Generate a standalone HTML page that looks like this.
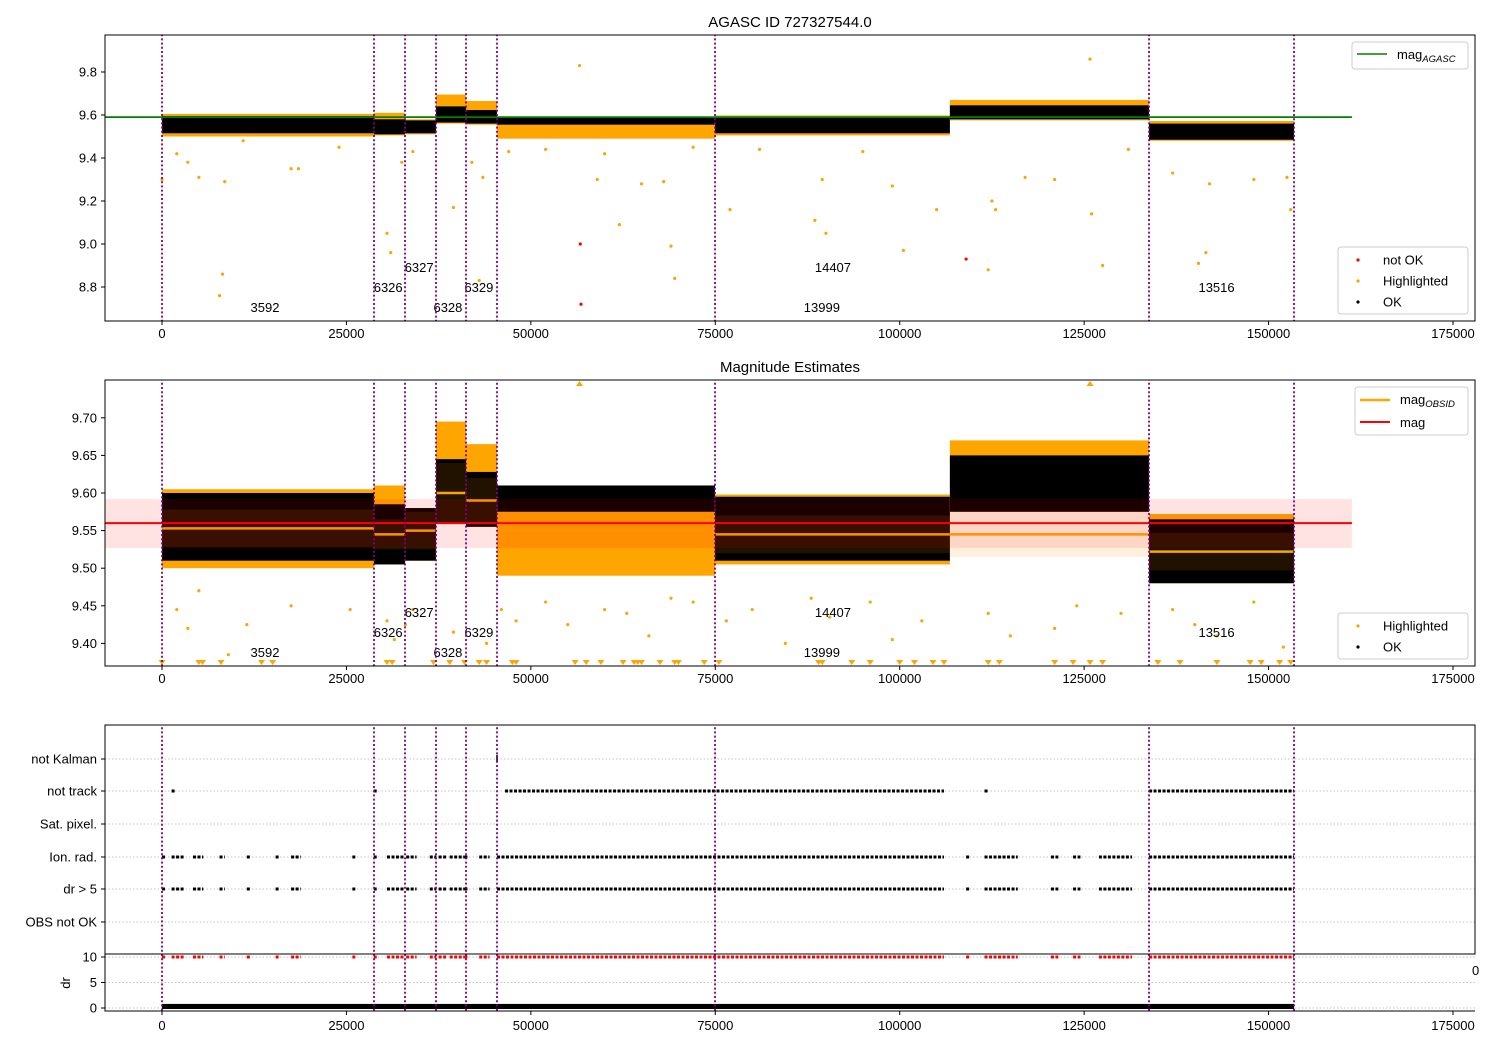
<!DOCTYPE html>
<html><head><meta charset="utf-8"><style>
body{margin:0;background:#fff;}
svg{display:block;font-family:"Liberation Sans","DejaVu Sans",sans-serif;}
</style></head><body>
<svg id="fig" width="1500" height="1050" viewBox="0 0 1500 1050">
<defs>
<clipPath id="c1"><rect x="105" y="35" width="1370" height="286"/></clipPath>
<clipPath id="c2"><rect x="105" y="380" width="1370" height="286"/></clipPath>
<clipPath id="c3"><rect x="105" y="725" width="1370" height="286"/></clipPath>
</defs>
<text x="790" y="27" text-anchor="middle" font-size="15">AGASC ID 727327544.0</text>
<text x="790" y="372" text-anchor="middle" font-size="15">Magnitude Estimates</text>
<g id="p1" clip-path="url(#c1)"></g>
<g id="p2" clip-path="url(#c2)"></g>
<g id="p3" clip-path="url(#c3)"></g>
<g id="ax"></g>
</svg>
<script>
// ---- data ----
const obsBounds = [0, 28738, 32940, 37143, 41209, 45411, 74963, 133795, 153450];
const segStart = [0, 28738, 32940, 37143, 41209, 45411, 74963, 106800, 133795];
const segEnd   = [28738, 32940, 37143, 41209, 45411, 74963, 106800, 133795, 153450];
const okLo  = [9.510, 9.505, 9.510, 9.560, 9.555, 9.560, 9.510, 9.575, 9.480];
const okHi  = [9.600, 9.585, 9.580, 9.645, 9.628, 9.610, 9.595, 9.650, 9.565];
const hlLo  = [9.500, 9.505, 9.510, 9.560, 9.555, 9.490, 9.505, 9.575, 9.480];
const hlHi  = [9.605, 9.610, 9.580, 9.695, 9.665, 9.575, 9.598, 9.670, 9.572];
const magObs = [9.553, 9.545, 9.550, 9.600, 9.590, 9.550, 9.545, 9.545, 9.522];
const magStd = [0.025, 0.020, 0.025, 0.040, 0.030, 0.025, 0.025, 0.030, 0.025];
const orangeFilled = [0, 0, 0, 0, 0, 1, 0, 0, 0];
const magAgasc = 9.59;
const magMean = 9.56, magMeanLo = 9.527, magMeanHi = 9.592;
const obsLabels = ["3592","6326","6327","6328","6329","14407","13999","13516"];
const labelX = [12000, 28700, 32900, 36800, 41000, 88500, 87000, 140500];
const labelLevel = [2, 1, 0, 2, 1, 0, 2, 1];
const outX = [0,7800,8200,8500,5000,3500,2000,17500,18500,30500,31000,32500,34000,39500,43000,43500,42000,56600,59000,62000,69000,69500,68000,65000,77000,88500,90000,89500,100500,105000,112000,113000,112500,125800,126000,127500,121000,140500,141500,142000,148000,152500,153000,11000,24000,47000,52000,60000,72000,81000,95000,99000,117000,131000,137000];
const outY = [9.30,8.76,8.86,9.29,9.31,9.38,9.42,9.35,9.35,9.05,8.96,9.38,9.43,9.17,8.83,9.31,9.38,9.83,9.30,9.09,8.99,8.84,9.29,9.28,9.16,9.11,9.05,9.30,8.97,9.16,8.88,9.16,9.20,9.86,9.14,8.90,9.30,8.91,8.96,9.28,9.30,9.31,9.16,9.48,9.45,9.43,9.44,9.42,9.45,9.44,9.43,9.27,9.31,9.44,9.33];
const badX = [56700, 56800, 109000];
const badY = [9.00, 8.72, 8.93];
const out2X = [2000,3500,5000,9000,11500,17500,25500,30500,31500,33000,34000,39500,44000,46000,48000,52000,55000,60000,63000,66000,69000,72000,76500,80000,84500,88000,90500,96000,99000,103000,112000,115000,121000,124000,130000,137000,140000,143000,148000,152000];
const out2Y = [9.445,9.42,9.47,9.385,9.425,9.45,9.445,9.43,9.405,9.425,9.445,9.415,9.40,9.445,9.43,9.455,9.425,9.445,9.44,9.41,9.46,9.455,9.43,9.445,9.40,9.46,9.435,9.455,9.405,9.43,9.44,9.41,9.42,9.45,9.44,9.445,9.425,9.41,9.455,9.395];
const triX = [0,5000,5500,8000,13500,15000,30500,31200,36800,39000,41000,43000,44000,47500,48000,56000,57500,59500,62500,64000,64500,65000,67500,69500,70000,73500,75500,89000,89500,93500,96000,100000,102000,104500,106000,112000,113500,121000,123500,125800,127500,135000,138000,143000,147500,149000,151500,153000];
const flagRows = ["not Kalman","not track","Sat. pixel.","Ion. rad.","dr > 5","OBS not OK"];
const trackRanges = [[1300,1400],[28700,28900],[46500,106000],[111500,111700],[133800,153450]];
const ionRanges = [[0,100],[1300,3000],[4200,5600],[7800,8500],[11500,11700],[15400,15600],[17500,18800],[25800,26000],[28700,29100],[30500,32900],[33100,34500],[36300,37200],[37500,38600],[39000,41000],[41000,41500],[43000,44400],[45411,106000],[109000,109200],[111500,116000],[120500,121500],[123500,124500],[127000,131500],[133800,153450]];
const drTicks = [0,5,10];
const xTicks = [0,25000,50000,75000,100000,125000,150000,175000];
const y1Ticks = [8.8,9.0,9.2,9.4,9.6,9.8];
const y2Ticks = [9.40,9.45,9.50,9.55,9.60,9.65,9.70];

// ---- scales ----
const X = v => 162 + v * 0.0073771;
const Y1 = m => 115 - (m - 9.6) * 215;
const Y2 = m => 493 - (m - 9.6) * 752;
const rowY = [759, 791, 824, 857, 889, 922];
const YD = v => 1008 - v * 5.1;
const NS = "http://www.w3.org/2000/svg";
function mk(parent, tag, attrs) {
  const e = document.createElementNS(NS, tag);
  for (const k in attrs) e.setAttribute(k, attrs[k]);
  parent.appendChild(e);
  return e;
}
const p1 = document.getElementById('p1'), p2 = document.getElementById('p2'), p3 = document.getElementById('p3'), ax = document.getElementById('ax');

// ---- panel 1 ----
let e;
for (let i = 0; i < segStart.length; i++) {
  e = mk(p1, 'rect', {x: X(segStart[i]), y: Y1(hlHi[i]), width: X(segEnd[i]) - X(segStart[i]), height: Y1(hlLo[i]) - Y1(hlHi[i]), fill: 'orange'});
  
  
  const lo = orangeFilled[i] ? 9.565 : okLo[i];
  e = mk(p1, 'rect', {x: X(segStart[i]), y: Y1(okHi[i] - (orangeFilled[i] ? 0.02 : 0.005)), width: X(segEnd[i]) - X(segStart[i]), height: Y1(lo + 0.005) - Y1(okHi[i] - 0.005), fill: '#000'});
  
  
}
for (let i = 0; i < outX.length; i++) {
  e = mk(p1, 'circle', {cx: X(outX[i]), cy: Y1(outY[i]), r: 1.6, fill: 'orange'});
  
  
}
for (let i = 0; i < badX.length; i++) {
  e = mk(p1, 'circle', {cx: X(badX[i]), cy: Y1(badY[i]), r: 1.6, fill: 'red'});
  
  
}
e = mk(p1, 'line', {x1: 105, x2: X(161300), y1: Y1(magAgasc), y2: Y1(magAgasc), stroke: 'green', 'stroke-width': 1.8});



// ---- panel 2 ----
for (let i = 0; i < segStart.length; i++) {
  const x0 = X(segStart[i]), w = X(segEnd[i]) - X(segStart[i]);
  e = mk(p2, 'rect', {x: x0, y: Y2(hlHi[i]), width: w, height: Y2(hlLo[i]) - Y2(hlHi[i]), fill: 'orange'});
  
  
  if (orangeFilled[i]) {
    e = mk(p2, 'rect', {x: x0, y: Y2(okHi[i]), width: w, height: Y2(hlHi[i]) - Y2(okHi[i]), fill: '#000'});
  } else {
    e = mk(p2, 'rect', {x: x0, y: Y2(okHi[i]), width: w, height: Y2(okLo[i]) - Y2(okHi[i]), fill: '#000'});
  }
  
  
  e = mk(p2, 'rect', {x: x0, y: Y2(magObs[i] + magStd[i]), width: w, height: Y2(magObs[i] - magStd[i]) - Y2(magObs[i] + magStd[i]), fill: 'rgba(255,140,0,0.13)'});
  
  
  e = mk(p2, 'line', {x1: x0, x2: x0 + w, y1: Y2(magObs[i]), y2: Y2(magObs[i]), stroke: 'orange', 'stroke-width': 2.5});
  
  
}
e = mk(p2, 'rect', {x: 105, y: Y2(magMeanHi), width: X(161300) - 105, height: Y2(magMeanLo) - Y2(magMeanHi), fill: 'rgba(255,0,0,0.11)'});


e = mk(p2, 'line', {x1: 105, x2: X(161300), y1: Y2(magMean), y2: Y2(magMean), stroke: 'red', 'stroke-width': 2});


for (let i = 0; i < out2X.length; i++) {
  e = mk(p2, 'circle', {cx: X(out2X[i]), cy: Y2(out2Y[i]), r: 1.6, fill: 'orange'});
  
  
}
for (let i = 0; i < triX.length; i++) {
  const cx = X(triX[i]);
  e = mk(p2, 'polygon', {points: `${cx-3.5},660 ${cx+3.5},660 ${cx},665`, fill: 'orange'});
  
  
}
[56600, 125800].forEach(v => {
  const cx = X(v);
  e = mk(p2, 'polygon', {points: `${cx-3.5},386 ${cx+3.5},386 ${cx},381`, fill: 'orange'});
  
  
});

// obsid labels
[[p1, 267, 20], [p2, 612, 20]].forEach(([g, base, step]) => {
  for (let i = 0; i < obsLabels.length; i++) {
    e = mk(g, 'text', {x: X(labelX[i]), y: base + labelLevel[i] * step + 5, 'font-size': 13, fill: '#000'});
    e.textContent = obsLabels[i];
    
    
  }
});

// ---- panel 3 ----
for (let r = 0; r < rowY.length; r++) {
  e = mk(p3, 'line', {x1: 105, x2: 1475, y1: rowY[r], y2: rowY[r], stroke: '#b0b0b0', 'stroke-width': 0.8, 'stroke-dasharray': '1.5,2'});
  
  
}
drTicks.forEach(t => {
  e = mk(p3, 'line', {x1: 105, x2: 1475, y1: YD(t), y2: YD(t), stroke: '#b0b0b0', 'stroke-width': 0.8, 'stroke-dasharray': '1.5,2'});
  
  
});
function rangeDots(g, ranges, y, color, name) {
  ranges.forEach(([a, b]) => {
    const w = Math.max(3, X(b) - X(a));
    e = mk(g, 'line', {x1: X(a), x2: X(a) + w, y1: y, y2: y, stroke: color, 'stroke-width': 3, 'stroke-dasharray': '3,1.5'});
    
    
  });
}
rangeDots(p3, trackRanges, rowY[1], '#000', 'not-track-points');
rangeDots(p3, ionRanges, rowY[3], '#000', 'ion-rad-points');
rangeDots(p3, ionRanges, rowY[4], '#000', 'dr-gt-5-points');
rangeDots(p3, ionRanges, YD(10), 'red', 'dr-high-points');
e = mk(p3, 'rect', {x: X(0), y: YD(0.8), width: X(153450) - X(0), height: YD(0) - YD(0.8) + 1, fill: '#000'});


e = mk(p3, 'line', {x1: X(45411), x2: X(45411), y1: 755, y2: 762, stroke: '#000', 'stroke-width': 1.5});



// vertical obsid lines
[p1, p2, p3].forEach(g => {
  obsBounds.forEach(b => {
    e = mk(g, 'line', {x1: X(b), x2: X(b), y1: 30, y2: 1015, stroke: 'purple', 'stroke-width': 1.8, 'stroke-dasharray': '2,2.2'});
    
    
  });
});

// ---- axes ----
function frame(x, y, w, h, name) {
  e = mk(ax, 'rect', {x, y, width: w, height: h, fill: 'none', stroke: '#000', 'stroke-width': 1});
  
  
}
frame(105, 35, 1370, 286, 'top-axes-frame');
frame(105, 380, 1370, 286, 'middle-axes-frame');
frame(105, 725, 1370, 229, 'flags-axes-frame');
e = mk(ax, 'path', {d: 'M105 954 V1011 H1475', fill: 'none', stroke: '#000', 'stroke-width': 1});


[[321, 338], [666, 683], [1011, 1030]].forEach(([yb, yt]) => {
  xTicks.forEach(t => {
    e = mk(ax, 'line', {x1: X(t), x2: X(t), y1: yb, y2: yb + 4, stroke: '#000'});
    
    
    e = mk(ax, 'text', {x: X(t), y: yt, 'text-anchor': 'middle', 'font-size': 13});
    e.textContent = t;
    
    
  });
});
function ytick(y, label, name) {
  e = mk(ax, 'line', {x1: 101, x2: 105, y1: y, y2: y, stroke: '#000'});
  
  
  e = mk(ax, 'text', {x: 97, y: y + 4.5, 'text-anchor': 'end', 'font-size': 13});
  e.textContent = label;
  
  
}
y1Ticks.forEach(t => ytick(Y1(t), t.toFixed(1), 'top-y-tick'));
y2Ticks.forEach(t => ytick(Y2(t), t.toFixed(2), 'middle-y-tick'));
flagRows.forEach((f, i) => ytick(rowY[i], f, 'flag-row'));
drTicks.forEach(t => ytick(YD(t), t, 'dr-y-tick'));
e = mk(ax, 'text', {x: 70, y: 983, 'font-size': 13, 'text-anchor': 'middle', transform: 'rotate(-90 70 983)'});
e.textContent = 'dr';


e = mk(ax, 'text', {x: 1472, y: 975, 'font-size': 13});
e.textContent = '0';



// ---- legends ----
function legend(x, y, w, h, name) {
  const g = mk(ax, 'g', {});
  
  
  mk(g, 'rect', {x, y, width: w, height: h, rx: 3, fill: 'rgba(255,255,255,0.85)', stroke: '#ccc'});
  return g;
}
function ltext(g, x, y, s) {
  const t = mk(g, 'text', {x, y, 'font-size': 13});
  t.innerHTML = s;
  return t;
}
let g = legend(1352, 42, 116, 27, 'top-legend-mag-agasc');
mk(g, 'line', {x1: 1357, x2: 1387, y1: 54, y2: 54, stroke: 'green', 'stroke-width': 1.5});
ltext(g, 1397, 59, 'mag<tspan font-size="9.5" font-style="italic" dy="3">AGASC</tspan>');
g = legend(1338, 247, 130, 67, 'top-legend-status');
[['red', 'not OK', 260], ['orange', 'Highlighted', 281], ['#000', 'OK', 302]].forEach(([c, s, y]) => {
  mk(g, 'circle', {cx: 1358, cy: y, r: 1.6, fill: c});
  ltext(g, 1383, y + 4.5, s);
});
g = legend(1355, 387, 113, 48, 'middle-legend-mags');
mk(g, 'line', {x1: 1360, x2: 1390, y1: 400, y2: 400, stroke: 'orange', 'stroke-width': 2.5});
ltext(g, 1400, 404, 'mag<tspan font-size="9.5" font-style="italic" dy="3">OBSID</tspan>');
mk(g, 'line', {x1: 1360, x2: 1390, y1: 422, y2: 422, stroke: 'red', 'stroke-width': 2});
ltext(g, 1400, 427, 'mag');
g = legend(1338, 613, 130, 46, 'middle-legend-status');
[['orange', 'Highlighted', 626], ['#000', 'OK', 647]].forEach(([c, s, y]) => {
  mk(g, 'circle', {cx: 1358, cy: y, r: 1.6, fill: c});
  ltext(g, 1383, y + 4.5, s);
});
</script>
</body></html>
